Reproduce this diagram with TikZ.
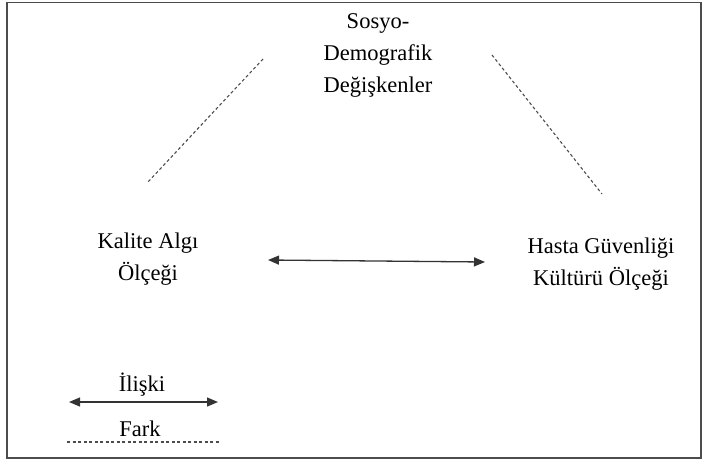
\documentclass[tikz,border=0pt]{standalone}
\usepackage{fontspec}
\setmainfont{Liberation Serif}
\usetikzlibrary{arrows.meta}
\begin{document}
\begin{tikzpicture}[x=1pt,y=-1pt,
  lbl/.style={font=\fontsize{22.5}{32}\selectfont, align=center, inner sep=0pt, text=black},
  dotline/.style={draw=black!70, line width=1.1pt, dash pattern=on 3pt off 2.5pt},
  rel/.style={draw=black!80, line width=1.3pt, {Triangle[length=11pt,width=9pt]}-{Triangle[length=11pt,width=9pt]}}]
\useasboundingbox (0,0) rectangle (703,461);
\draw[draw=black!70, line width=1.6pt] (7,2.5) rectangle (701,458);
% nodes
\node[lbl] (soc) at (378,55) {Sosyo-\\Demografik\\Değişkenler};
\node[lbl] (kal) at (148,259) {Kalite Algı\\Ölçeği};
\node[lbl] (has) at (601,264) {Hasta Güvenliği\\Kültürü Ölçeği};
\node[lbl] (ili) at (142,385) {İlişki};
\node[lbl] (far) at (140,429) {Fark};
% anchor coordinates
\coordinate (l1) at (263,59);
\coordinate (l2) at (147,183);
\coordinate (r1) at (492,55);
\coordinate (r2) at (602,194);
\coordinate (m1) at (268,260);
\coordinate (m2) at (485,262);
\coordinate (a1) at (69,402);
\coordinate (a2) at (218,402);
\coordinate (d1) at (67,442);
\coordinate (d2) at (220,442);
% connectors
\draw[dotline] (l1) -- (l2);
\draw[dotline] (r1) -- (r2);
\draw[rel] (m1) -- (m2);
\draw[rel] (a1) -- (a2);
\draw[dotline] (d1) -- (d2);
\end{tikzpicture}
\end{document}
